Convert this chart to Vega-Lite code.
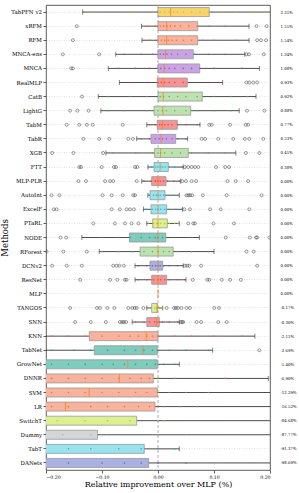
{
  "$schema": "https://vega.github.io/schema/vega-lite/v6.json",
  "width": 224,
  "height": 465,
  "autosize": {"type": "none"},
  "padding": {"left": 46, "top": 5, "right": 29, "bottom": 23},
  "background": "white",
  "config": {
    "font": "DejaVu Serif",
    "view": {"stroke": "#333333", "strokeWidth": 0.8},
    "axis": {"labelColor": "#000000", "titleColor": "#000000", "titleFontWeight": "normal", "tickColor": "#333333"}
  },
  "datasets": {
    "stats": [
      {"method": "TabPFN v2", "lo": -0.1345, "q1": 0.0, "med": 0.0225, "q3": 0.0916, "hi": 0.25},
      {"method": "xRFM", "lo": -0.0295, "q1": 0.0, "med": 0.0155, "q3": 0.0709, "hi": 0.1625},
      {"method": "RFM", "lo": -0.0286, "q1": 0.0, "med": 0.0154, "q3": 0.0709, "hi": 0.1625},
      {"method": "MNCA-ens", "lo": -0.0755, "q1": 0.0, "med": 0.0134, "q3": 0.063, "hi": 0.155},
      {"method": "MNCA", "lo": -0.0888, "q1": 0.0, "med": 0.0108, "q3": 0.0745, "hi": 0.181},
      {"method": "RealMLP", "lo": -0.069, "q1": -0.0013, "med": 0.0093, "q3": 0.0523, "hi": 0.1155},
      {"method": "CatB", "lo": -0.1066, "q1": 0.0, "med": 0.0092, "q3": 0.079, "hi": 0.175},
      {"method": "LightG", "lo": -0.102, "q1": -0.0071, "med": 0.0088, "q3": 0.0584, "hi": 0.145},
      {"method": "TabM", "lo": -0.02, "q1": -0.0013, "med": 0.0077, "q3": 0.0345, "hi": 0.075},
      {"method": "TabR", "lo": -0.038, "q1": -0.0125, "med": 0.0053, "q3": 0.0316, "hi": 0.053},
      {"method": "XGB", "lo": -0.093, "q1": -0.006, "med": 0.0045, "q3": 0.054, "hi": 0.139},
      {"method": "FTT", "lo": -0.018, "q1": -0.0071, "med": 0.0038, "q3": 0.0184, "hi": 0.045},
      {"method": "MLP-PLR", "lo": -0.029, "q1": -0.0113, "med": 0.0, "q3": 0.0143, "hi": 0.0405},
      {"method": "AutoInt", "lo": -0.018, "q1": -0.0143, "med": 0.0, "q3": 0.0125, "hi": 0.038},
      {"method": "ExcelF", "lo": -0.026, "q1": -0.0125, "med": 0.0, "q3": 0.0155, "hi": 0.044},
      {"method": "PTaRL", "lo": -0.02, "q1": -0.0095, "med": 0.0, "q3": 0.0166, "hi": 0.038},
      {"method": "NODE", "lo": -0.136, "q1": -0.051, "med": 0.0, "q3": 0.0138, "hi": 0.0738},
      {"method": "RForest", "lo": -0.105, "q1": -0.032, "med": 0.0, "q3": 0.027, "hi": 0.1},
      {"method": "DCNv2", "lo": -0.041, "q1": -0.0143, "med": 0.0, "q3": 0.0084, "hi": 0.045},
      {"method": "ResNet", "lo": -0.041, "q1": -0.0113, "med": 0.0, "q3": 0.0155, "hi": 0.05},
      {"method": "MLP", "lo": null, "q1": null, "med": 0.0, "q3": null, "hi": null},
      {"method": "TANGOS", "lo": -0.02, "q1": -0.0113, "med": -0.0017, "q3": -0.0013, "hi": 0.0084},
      {"method": "SNN", "lo": -0.046, "q1": -0.02, "med": -0.003, "q3": 0.0023, "hi": 0.038},
      {"method": "KNN", "lo": -0.5, "q1": -0.1227, "med": -0.0211, "q3": 0.0, "hi": 0.173},
      {"method": "TabNet", "lo": -0.5, "q1": -0.1138, "med": -0.0269, "q3": -0.0013, "hi": 0.0977},
      {"method": "GrowNet", "lo": -0.6, "q1": -0.25, "med": -0.054, "q3": -0.0013, "hi": 0.038},
      {"method": "DNNR", "lo": -0.8, "q1": -0.3, "med": -0.069, "q3": -0.0084, "hi": 0.197},
      {"method": "SVM", "lo": -0.9, "q1": -0.4, "med": -0.1229, "q3": -0.0013, "hi": 0.35},
      {"method": "LR", "lo": -0.95, "q1": -0.45, "med": -0.1652, "q3": -0.0054, "hi": 0.3},
      {"method": "SwitchT", "lo": -1.0, "q1": -0.95, "med": -0.8468, "q3": -0.038, "hi": 0.3},
      {"method": "Dummy", "lo": -1.0, "q1": -0.95, "med": -0.8777, "q3": -0.108, "hi": 0.3},
      {"method": "TabT", "lo": -1.0, "q1": -0.97, "med": -0.9137, "q3": -0.0245, "hi": 0.038},
      {"method": "DANets", "lo": -1.0, "q1": -0.99, "med": -0.9869, "q3": -0.0166, "hi": 0.3}
    ],
    "outliers": [
      {"method": "xRFM", "v": -0.145}, {"method": "xRFM", "v": 0.176}, {"method": "xRFM", "v": 0.194},
      {"method": "RFM", "v": -0.152}, {"method": "RFM", "v": 0.177}, {"method": "RFM", "v": 0.184}, {"method": "RFM", "v": 0.193},
      {"method": "MNCA-ens", "v": -0.17}, {"method": "MNCA-ens", "v": -0.105}, {"method": "MNCA-ens", "v": 0.158}, {"method": "MNCA-ens", "v": 0.1625}, {"method": "MNCA-ens", "v": 0.189},
      {"method": "MNCA", "v": -0.152}, {"method": "MNCA", "v": -0.155},
      {"method": "RealMLP", "v": 0.158}, {"method": "RealMLP", "v": 0.163}, {"method": "RealMLP", "v": 0.17}, {"method": "RealMLP", "v": 0.177},
      {"method": "CatB", "v": -0.1357},
      {"method": "LightG", "v": -0.157}, {"method": "LightG", "v": -0.144}, {"method": "LightG", "v": -0.124}, {"method": "LightG", "v": 0.159}, {"method": "LightG", "v": 0.19},
      {"method": "TabM", "v": -0.163}, {"method": "TabM", "v": -0.1405}, {"method": "TabM", "v": -0.127}, {"method": "TabM", "v": -0.1166}, {"method": "TabM", "v": -0.063}, {"method": "TabM", "v": 0.0916}, {"method": "TabM", "v": 0.096}, {"method": "TabM", "v": 0.1286}, {"method": "TabM", "v": 0.1566}, {"method": "TabM", "v": 0.161},
      {"method": "TabR", "v": -0.133}, {"method": "TabR", "v": -0.105}, {"method": "TabR", "v": -0.087}, {"method": "TabR", "v": -0.053}, {"method": "TabR", "v": -0.045}, {"method": "TabR", "v": 0.078}, {"method": "TabR", "v": 0.084}, {"method": "TabR", "v": 0.1077}, {"method": "TabR", "v": 0.1345}, {"method": "TabR", "v": 0.155}, {"method": "TabR", "v": 0.163}, {"method": "TabR", "v": 0.188},
      {"method": "XGB", "v": -0.189}, {"method": "XGB", "v": -0.151}, {"method": "XGB", "v": -0.098}, {"method": "XGB", "v": 0.157}, {"method": "XGB", "v": 0.181},
      {"method": "FTT", "v": -0.1405}, {"method": "FTT", "v": -0.1375}, {"method": "FTT", "v": -0.1005}, {"method": "FTT", "v": -0.0786}, {"method": "FTT", "v": -0.075}, {"method": "FTT", "v": -0.041}, {"method": "FTT", "v": -0.037}, {"method": "FTT", "v": 0.048}, {"method": "FTT", "v": 0.054}, {"method": "FTT", "v": 0.06}, {"method": "FTT", "v": 0.066}, {"method": "FTT", "v": 0.072}, {"method": "FTT", "v": 0.1036}, {"method": "FTT", "v": 0.12}, {"method": "FTT", "v": 0.127},
      {"method": "MLP-PLR", "v": -0.142}, {"method": "MLP-PLR", "v": -0.1286}, {"method": "MLP-PLR", "v": -0.0946}, {"method": "MLP-PLR", "v": -0.0857}, {"method": "MLP-PLR", "v": -0.0798}, {"method": "MLP-PLR", "v": -0.038}, {"method": "MLP-PLR", "v": 0.0434}, {"method": "MLP-PLR", "v": 0.05}, {"method": "MLP-PLR", "v": 0.06}, {"method": "MLP-PLR", "v": 0.068}, {"method": "MLP-PLR", "v": 0.124}, {"method": "MLP-PLR", "v": 0.139}, {"method": "MLP-PLR", "v": 0.161},
      {"method": "AutoInt", "v": -0.19}, {"method": "AutoInt", "v": -0.176}, {"method": "AutoInt", "v": -0.099}, {"method": "AutoInt", "v": -0.0827}, {"method": "AutoInt", "v": -0.063}, {"method": "AutoInt", "v": -0.044}, {"method": "AutoInt", "v": -0.041}, {"method": "AutoInt", "v": 0.051}, {"method": "AutoInt", "v": 0.054}, {"method": "AutoInt", "v": 0.057}, {"method": "AutoInt", "v": 0.061}, {"method": "AutoInt", "v": 0.08}, {"method": "AutoInt", "v": 0.1227}, {"method": "AutoInt", "v": 0.185},
      {"method": "ExcelF", "v": -0.186}, {"method": "ExcelF", "v": -0.181}, {"method": "ExcelF", "v": -0.0827}, {"method": "ExcelF", "v": -0.068}, {"method": "ExcelF", "v": -0.056}, {"method": "ExcelF", "v": -0.05}, {"method": "ExcelF", "v": -0.043}, {"method": "ExcelF", "v": 0.047}, {"method": "ExcelF", "v": 0.057}, {"method": "ExcelF", "v": 0.093}, {"method": "ExcelF", "v": 0.112}, {"method": "ExcelF", "v": 0.163},
      {"method": "PTaRL", "v": -0.1155}, {"method": "PTaRL", "v": -0.077}, {"method": "PTaRL", "v": -0.059}, {"method": "PTaRL", "v": -0.047}, {"method": "PTaRL", "v": -0.035}, {"method": "PTaRL", "v": 0.054}, {"method": "PTaRL", "v": 0.063}, {"method": "PTaRL", "v": 0.066}, {"method": "PTaRL", "v": 0.099}, {"method": "PTaRL", "v": 0.1357},
      {"method": "NODE", "v": -0.174}, {"method": "NODE", "v": -0.164}, {"method": "NODE", "v": 0.121}, {"method": "NODE", "v": 0.164}, {"method": "NODE", "v": 0.175}, {"method": "NODE", "v": 0.177}, {"method": "NODE", "v": 0.199},
      {"method": "RForest", "v": -0.199}, {"method": "RForest", "v": -0.169}, {"method": "RForest", "v": -0.127}, {"method": "RForest", "v": 0.158}, {"method": "RForest", "v": 0.171},
      {"method": "DCNv2", "v": -0.189}, {"method": "DCNv2", "v": -0.163}, {"method": "DCNv2", "v": -0.136}, {"method": "DCNv2", "v": -0.08}, {"method": "DCNv2", "v": -0.074}, {"method": "DCNv2", "v": -0.069}, {"method": "DCNv2", "v": -0.061}, {"method": "DCNv2", "v": 0.048}, {"method": "DCNv2", "v": 0.052}, {"method": "DCNv2", "v": 0.056}, {"method": "DCNv2", "v": 0.077}, {"method": "DCNv2", "v": 0.177},
      {"method": "ResNet", "v": -0.139}, {"method": "ResNet", "v": -0.0857}, {"method": "ResNet", "v": -0.0727}, {"method": "ResNet", "v": -0.059}, {"method": "ResNet", "v": -0.056}, {"method": "ResNet", "v": 0.062}, {"method": "ResNet", "v": 0.088}, {"method": "ResNet", "v": 0.0916}, {"method": "ResNet", "v": 0.114}, {"method": "ResNet", "v": 0.1286}, {"method": "ResNet", "v": 0.148},
      {"method": "TANGOS", "v": -0.157}, {"method": "TANGOS", "v": -0.109}, {"method": "TANGOS", "v": -0.1036}, {"method": "TANGOS", "v": -0.0905}, {"method": "TANGOS", "v": -0.078}, {"method": "TANGOS", "v": -0.053}, {"method": "TANGOS", "v": -0.046}, {"method": "TANGOS", "v": -0.0416}, {"method": "TANGOS", "v": -0.038}, {"method": "TANGOS", "v": -0.026}, {"method": "TANGOS", "v": 0.0155}, {"method": "TANGOS", "v": 0.0286}, {"method": "TANGOS", "v": 0.032}, {"method": "TANGOS", "v": 0.0357}, {"method": "TANGOS", "v": 0.042}, {"method": "TANGOS", "v": 0.051}, {"method": "TANGOS", "v": 0.057}, {"method": "TANGOS", "v": 0.1005}, {"method": "TANGOS", "v": 0.109},
      {"method": "SNN", "v": -0.148}, {"method": "SNN", "v": -0.12}, {"method": "SNN", "v": -0.093}, {"method": "SNN", "v": -0.068}, {"method": "SNN", "v": -0.064}, {"method": "SNN", "v": -0.061}, {"method": "SNN", "v": -0.057}, {"method": "SNN", "v": 0.0405}, {"method": "SNN", "v": 0.043}, {"method": "SNN", "v": 0.045}, {"method": "SNN", "v": 0.069}, {"method": "SNN", "v": 0.077}, {"method": "SNN", "v": 0.1077}, {"method": "SNN", "v": 0.1227},
      {"method": "TabNet", "v": 0.181}
    ],
    "points": [
      {"method": "TabPFN v2", "v": -0.12}, {"method": "TabPFN v2", "v": -0.05}, {"method": "TabPFN v2", "v": -0.01}, {"method": "TabPFN v2", "v": 0.004}, {"method": "TabPFN v2", "v": 0.012}, {"method": "TabPFN v2", "v": 0.02}, {"method": "TabPFN v2", "v": 0.028}, {"method": "TabPFN v2", "v": 0.035}, {"method": "TabPFN v2", "v": 0.045}, {"method": "TabPFN v2", "v": 0.06}, {"method": "TabPFN v2", "v": 0.075}, {"method": "TabPFN v2", "v": 0.09}, {"method": "TabPFN v2", "v": 0.11}, {"method": "TabPFN v2", "v": 0.14}, {"method": "TabPFN v2", "v": 0.17}, {"method": "TabPFN v2", "v": 0.19},
      {"method": "xRFM", "v": -0.02}, {"method": "xRFM", "v": -0.005}, {"method": "xRFM", "v": 0.004}, {"method": "xRFM", "v": 0.01}, {"method": "xRFM", "v": 0.016}, {"method": "xRFM", "v": 0.022}, {"method": "xRFM", "v": 0.03}, {"method": "xRFM", "v": 0.04}, {"method": "xRFM", "v": 0.055}, {"method": "xRFM", "v": 0.07}, {"method": "xRFM", "v": 0.09}, {"method": "xRFM", "v": 0.12},
      {"method": "RFM", "v": -0.015}, {"method": "RFM", "v": 0.0}, {"method": "RFM", "v": 0.006}, {"method": "RFM", "v": 0.012}, {"method": "RFM", "v": 0.018}, {"method": "RFM", "v": 0.025}, {"method": "RFM", "v": 0.033}, {"method": "RFM", "v": 0.045}, {"method": "RFM", "v": 0.06}, {"method": "RFM", "v": 0.08}, {"method": "RFM", "v": 0.1}, {"method": "RFM", "v": 0.14},
      {"method": "MNCA-ens", "v": -0.06}, {"method": "MNCA-ens", "v": -0.03}, {"method": "MNCA-ens", "v": -0.01}, {"method": "MNCA-ens", "v": 0.004}, {"method": "MNCA-ens", "v": 0.01}, {"method": "MNCA-ens", "v": 0.016}, {"method": "MNCA-ens", "v": 0.024}, {"method": "MNCA-ens", "v": 0.035}, {"method": "MNCA-ens", "v": 0.05}, {"method": "MNCA-ens", "v": 0.065}, {"method": "MNCA-ens", "v": 0.09}, {"method": "MNCA-ens", "v": 0.12},
      {"method": "MNCA", "v": -0.07}, {"method": "MNCA", "v": -0.04}, {"method": "MNCA", "v": -0.015}, {"method": "MNCA", "v": 0.005}, {"method": "MNCA", "v": 0.012}, {"method": "MNCA", "v": 0.02}, {"method": "MNCA", "v": 0.03}, {"method": "MNCA", "v": 0.045}, {"method": "MNCA", "v": 0.06}, {"method": "MNCA", "v": 0.075}, {"method": "MNCA", "v": 0.1}, {"method": "MNCA", "v": 0.15},
      {"method": "RealMLP", "v": -0.05}, {"method": "RealMLP", "v": -0.02}, {"method": "RealMLP", "v": 0.0}, {"method": "RealMLP", "v": 0.006}, {"method": "RealMLP", "v": 0.012}, {"method": "RealMLP", "v": 0.02}, {"method": "RealMLP", "v": 0.03}, {"method": "RealMLP", "v": 0.045}, {"method": "RealMLP", "v": 0.07}, {"method": "RealMLP", "v": 0.09}, {"method": "RealMLP", "v": 0.11},
      {"method": "CatB", "v": -0.09}, {"method": "CatB", "v": -0.05}, {"method": "CatB", "v": -0.02}, {"method": "CatB", "v": 0.004}, {"method": "CatB", "v": 0.01}, {"method": "CatB", "v": 0.02}, {"method": "CatB", "v": 0.035}, {"method": "CatB", "v": 0.05}, {"method": "CatB", "v": 0.07}, {"method": "CatB", "v": 0.1}, {"method": "CatB", "v": 0.13}, {"method": "CatB", "v": 0.16},
      {"method": "LightG", "v": -0.09}, {"method": "LightG", "v": -0.06}, {"method": "LightG", "v": -0.02}, {"method": "LightG", "v": 0.0}, {"method": "LightG", "v": 0.008}, {"method": "LightG", "v": 0.015}, {"method": "LightG", "v": 0.03}, {"method": "LightG", "v": 0.05}, {"method": "LightG", "v": 0.07}, {"method": "LightG", "v": 0.1}, {"method": "LightG", "v": 0.13},
      {"method": "TabM", "v": -0.015}, {"method": "TabM", "v": -0.005}, {"method": "TabM", "v": 0.003}, {"method": "TabM", "v": 0.007}, {"method": "TabM", "v": 0.012}, {"method": "TabM", "v": 0.018}, {"method": "TabM", "v": 0.025}, {"method": "TabM", "v": 0.035}, {"method": "TabM", "v": 0.05}, {"method": "TabM", "v": 0.07},
      {"method": "TabR", "v": -0.03}, {"method": "TabR", "v": -0.015}, {"method": "TabR", "v": -0.005}, {"method": "TabR", "v": 0.002}, {"method": "TabR", "v": 0.008}, {"method": "TabR", "v": 0.015}, {"method": "TabR", "v": 0.025}, {"method": "TabR", "v": 0.035}, {"method": "TabR", "v": 0.05},
      {"method": "XGB", "v": -0.08}, {"method": "XGB", "v": -0.04}, {"method": "XGB", "v": -0.01}, {"method": "XGB", "v": 0.0}, {"method": "XGB", "v": 0.005}, {"method": "XGB", "v": 0.012}, {"method": "XGB", "v": 0.025}, {"method": "XGB", "v": 0.04}, {"method": "XGB", "v": 0.06}, {"method": "XGB", "v": 0.09}, {"method": "XGB", "v": 0.12},
      {"method": "FTT", "v": -0.012}, {"method": "FTT", "v": -0.004}, {"method": "FTT", "v": 0.0}, {"method": "FTT", "v": 0.004}, {"method": "FTT", "v": 0.008}, {"method": "FTT", "v": 0.013}, {"method": "FTT", "v": 0.02}, {"method": "FTT", "v": 0.03}, {"method": "FTT", "v": 0.042},
      {"method": "MLP-PLR", "v": -0.025}, {"method": "MLP-PLR", "v": -0.012}, {"method": "MLP-PLR", "v": -0.005}, {"method": "MLP-PLR", "v": 0.0}, {"method": "MLP-PLR", "v": 0.004}, {"method": "MLP-PLR", "v": 0.01}, {"method": "MLP-PLR", "v": 0.017}, {"method": "MLP-PLR", "v": 0.028}, {"method": "MLP-PLR", "v": 0.038},
      {"method": "AutoInt", "v": -0.016}, {"method": "AutoInt", "v": -0.008}, {"method": "AutoInt", "v": -0.003}, {"method": "AutoInt", "v": 0.0}, {"method": "AutoInt", "v": 0.004}, {"method": "AutoInt", "v": 0.01}, {"method": "AutoInt", "v": 0.018}, {"method": "AutoInt", "v": 0.028}, {"method": "AutoInt", "v": 0.036},
      {"method": "ExcelF", "v": -0.022}, {"method": "ExcelF", "v": -0.01}, {"method": "ExcelF", "v": -0.004}, {"method": "ExcelF", "v": 0.0}, {"method": "ExcelF", "v": 0.005}, {"method": "ExcelF", "v": 0.012}, {"method": "ExcelF", "v": 0.02}, {"method": "ExcelF", "v": 0.032}, {"method": "ExcelF", "v": 0.042},
      {"method": "PTaRL", "v": -0.017}, {"method": "PTaRL", "v": -0.008}, {"method": "PTaRL", "v": -0.002}, {"method": "PTaRL", "v": 0.0}, {"method": "PTaRL", "v": 0.005}, {"method": "PTaRL", "v": 0.012}, {"method": "PTaRL", "v": 0.02}, {"method": "PTaRL", "v": 0.03}, {"method": "PTaRL", "v": 0.036},
      {"method": "NODE", "v": -0.13}, {"method": "NODE", "v": -0.1}, {"method": "NODE", "v": -0.07}, {"method": "NODE", "v": -0.05}, {"method": "NODE", "v": -0.03}, {"method": "NODE", "v": -0.015}, {"method": "NODE", "v": -0.005}, {"method": "NODE", "v": 0.0}, {"method": "NODE", "v": 0.008}, {"method": "NODE", "v": 0.015}, {"method": "NODE", "v": 0.03}, {"method": "NODE", "v": 0.06},
      {"method": "RForest", "v": -0.1}, {"method": "RForest", "v": -0.07}, {"method": "RForest", "v": -0.045}, {"method": "RForest", "v": -0.025}, {"method": "RForest", "v": -0.01}, {"method": "RForest", "v": 0.0}, {"method": "RForest", "v": 0.01}, {"method": "RForest", "v": 0.02}, {"method": "RForest", "v": 0.035}, {"method": "RForest", "v": 0.06}, {"method": "RForest", "v": 0.09},
      {"method": "DCNv2", "v": -0.035}, {"method": "DCNv2", "v": -0.02}, {"method": "DCNv2", "v": -0.01}, {"method": "DCNv2", "v": -0.004}, {"method": "DCNv2", "v": 0.0}, {"method": "DCNv2", "v": 0.004}, {"method": "DCNv2", "v": 0.01}, {"method": "DCNv2", "v": 0.02}, {"method": "DCNv2", "v": 0.035},
      {"method": "ResNet", "v": -0.035}, {"method": "ResNet", "v": -0.02}, {"method": "ResNet", "v": -0.008}, {"method": "ResNet", "v": 0.0}, {"method": "ResNet", "v": 0.005}, {"method": "ResNet", "v": 0.012}, {"method": "ResNet", "v": 0.02}, {"method": "ResNet", "v": 0.035}, {"method": "ResNet", "v": 0.048},
      {"method": "TANGOS", "v": -0.015}, {"method": "TANGOS", "v": -0.006}, {"method": "TANGOS", "v": -0.003}, {"method": "TANGOS", "v": -0.001}, {"method": "TANGOS", "v": 0.0}, {"method": "TANGOS", "v": 0.004}, {"method": "TANGOS", "v": 0.008},
      {"method": "SNN", "v": -0.04}, {"method": "SNN", "v": -0.025}, {"method": "SNN", "v": -0.015}, {"method": "SNN", "v": -0.006}, {"method": "SNN", "v": -0.002}, {"method": "SNN", "v": 0.002}, {"method": "SNN", "v": 0.008}, {"method": "SNN", "v": 0.02}, {"method": "SNN", "v": 0.035},
      {"method": "KNN", "v": -0.19}, {"method": "KNN", "v": -0.16}, {"method": "KNN", "v": -0.13}, {"method": "KNN", "v": -0.1}, {"method": "KNN", "v": -0.07}, {"method": "KNN", "v": -0.05}, {"method": "KNN", "v": -0.035}, {"method": "KNN", "v": -0.02}, {"method": "KNN", "v": -0.01}, {"method": "KNN", "v": 0.0}, {"method": "KNN", "v": 0.03}, {"method": "KNN", "v": 0.06}, {"method": "KNN", "v": 0.1}, {"method": "KNN", "v": 0.15},
      {"method": "TabNet", "v": -0.19}, {"method": "TabNet", "v": -0.15}, {"method": "TabNet", "v": -0.12}, {"method": "TabNet", "v": -0.09}, {"method": "TabNet", "v": -0.06}, {"method": "TabNet", "v": -0.04}, {"method": "TabNet", "v": -0.025}, {"method": "TabNet", "v": -0.01}, {"method": "TabNet", "v": 0.0}, {"method": "TabNet", "v": 0.02}, {"method": "TabNet", "v": 0.05}, {"method": "TabNet", "v": 0.09},
      {"method": "GrowNet", "v": -0.19}, {"method": "GrowNet", "v": -0.16}, {"method": "GrowNet", "v": -0.13}, {"method": "GrowNet", "v": -0.1}, {"method": "GrowNet", "v": -0.08}, {"method": "GrowNet", "v": -0.06}, {"method": "GrowNet", "v": -0.04}, {"method": "GrowNet", "v": -0.02}, {"method": "GrowNet", "v": -0.005}, {"method": "GrowNet", "v": 0.01}, {"method": "GrowNet", "v": 0.03},
      {"method": "DNNR", "v": -0.19}, {"method": "DNNR", "v": -0.16}, {"method": "DNNR", "v": -0.13}, {"method": "DNNR", "v": -0.1}, {"method": "DNNR", "v": -0.07}, {"method": "DNNR", "v": -0.05}, {"method": "DNNR", "v": -0.03}, {"method": "DNNR", "v": -0.015}, {"method": "DNNR", "v": 0.0}, {"method": "DNNR", "v": 0.03}, {"method": "DNNR", "v": 0.12},
      {"method": "SVM", "v": -0.19}, {"method": "SVM", "v": -0.16}, {"method": "SVM", "v": -0.13}, {"method": "SVM", "v": -0.1}, {"method": "SVM", "v": -0.07}, {"method": "SVM", "v": -0.04}, {"method": "SVM", "v": -0.02}, {"method": "SVM", "v": 0.0}, {"method": "SVM", "v": 0.02}, {"method": "SVM", "v": 0.05}, {"method": "SVM", "v": 0.09},
      {"method": "LR", "v": -0.19}, {"method": "LR", "v": -0.16}, {"method": "LR", "v": -0.12}, {"method": "LR", "v": -0.09}, {"method": "LR", "v": -0.06}, {"method": "LR", "v": -0.035}, {"method": "LR", "v": -0.015}, {"method": "LR", "v": 0.0}, {"method": "LR", "v": 0.01}, {"method": "LR", "v": 0.04}, {"method": "LR", "v": 0.07},
      {"method": "SwitchT", "v": -0.18}, {"method": "SwitchT", "v": -0.13}, {"method": "SwitchT", "v": -0.09}, {"method": "SwitchT", "v": -0.05}, {"method": "SwitchT", "v": 0.0}, {"method": "SwitchT", "v": 0.01},
      {"method": "Dummy", "v": -0.17}, {"method": "Dummy", "v": -0.12}, {"method": "Dummy", "v": -0.09}, {"method": "Dummy", "v": 0.0}, {"method": "Dummy", "v": 0.05},
      {"method": "TabT", "v": -0.16}, {"method": "TabT", "v": -0.12}, {"method": "TabT", "v": -0.07}, {"method": "TabT", "v": -0.03}, {"method": "TabT", "v": 0.0}, {"method": "TabT", "v": 0.03},
      {"method": "DANets", "v": -0.16}, {"method": "DANets", "v": -0.1}, {"method": "DANets", "v": -0.06}, {"method": "DANets", "v": -0.03}, {"method": "DANets", "v": 0.0}, {"method": "DANets", "v": 0.05}
    ]
  },
  "layer": [
    {
      "encoding": {
        "y": {
          "field": "method", "type": "nominal",
          "scale": {"domain": ["TabPFN v2","xRFM","RFM","MNCA-ens","MNCA","RealMLP","CatB","LightG","TabM","TabR","XGB","FTT","MLP-PLR","AutoInt","ExcelF","PTaRL","NODE","RForest","DCNv2","ResNet","MLP","TANGOS","SNN","KNN","TabNet","GrowNet","DNNR","SVM","LR","SwitchT","Dummy","TabT","DANets"], "paddingInner": 0, "paddingOuter": 0},
          "axis": {"title": "Methods", "titleFontSize": 8.5, "titlePadding": 1, "labelFontSize": 5.5, "labelPadding": 1.5, "tickSize": 3, "tickWidth": 0.8, "bandPosition": 0.5, "grid": true, "gridDash": [1, 1.5], "gridColor": "#c4c4c4", "gridWidth": 0.5, "domain": false}
        }
      },
      "layer": [
        {
          "data": {"values": [{}]},
          "mark": {"type": "rule", "strokeDash": [3, 2], "color": "#9a9a9a", "strokeWidth": 0.8},
          "encoding": {
            "x": {"datum": 0, "type": "quantitative", "scale": {"domain": [-0.2, 0.2], "nice": false, "zero": false},
              "axis": {"values": [-0.2, -0.15, -0.1, -0.05, 0, 0.05, 0.1, 0.15, 0.2], "format": ".2f", "title": "Relative improvement over MLP (%)", "titleFontSize": 8, "titlePadding": 1.5, "labelFontSize": 4.6, "labelPadding": 1.5, "tickSize": 3, "tickWidth": 0.8, "grid": false, "domain": false}},
            "y": null
          }
        },
        {
          "data": {"name": "stats"},
          "mark": {"type": "rule", "color": "#3a3a3a", "strokeWidth": 0.9, "clip": true},
          "encoding": {"x": {"field": "lo", "type": "quantitative"}, "x2": {"field": "hi"}}
        },
        {
          "data": {"name": "stats"},
          "mark": {"type": "tick", "color": "#3a3a3a", "size": 5, "thickness": 0.9, "clip": true},
          "encoding": {"x": {"field": "lo", "type": "quantitative"}}
        },
        {
          "data": {"name": "stats"},
          "mark": {"type": "tick", "color": "#3a3a3a", "size": 5, "thickness": 0.9, "clip": true},
          "encoding": {"x": {"field": "hi", "type": "quantitative"}}
        },
        {
          "data": {"name": "stats"},
          "mark": {"type": "bar", "size": 9, "stroke": "#999999", "strokeWidth": 0.8, "clip": true},
          "encoding": {
            "x": {"field": "q1", "type": "quantitative"},
            "x2": {"field": "q3"},
            "fill": {"field": "method", "type": "nominal", "legend": null,
              "scale": {"domain": ["TabPFN v2","xRFM","RFM","MNCA-ens","MNCA","RealMLP","CatB","LightG","TabM","TabR","XGB","FTT","MLP-PLR","AutoInt","ExcelF","PTaRL","NODE","RForest","DCNv2","ResNet","MLP","TANGOS","SNN","KNN","TabNet","GrowNet","DNNR","SVM","LR","SwitchT","Dummy","TabT","DANets"],
                "range": ["#f8d46c","#f9b29c","#f9b29c","#c9a3e3","#c9a3e3","#f49494","#bde2b0","#bde2b0","#f49494","#c9a3e3","#bde2b0","#97e4ef","#f49494","#97e4ef","#97e4ef","#dbf191","#7fcbbd","#bde2b0","#a9b0e3","#f49494","#ffb37a","#dbf191","#f49494","#f9b29c","#7fcbbd","#7fcbbd","#f9b29c","#f9b29c","#f9b29c","#dbf191","#d5d5d5","#97e4ef","#a9b0e3"]}}
          }
        },
        {
          "data": {"name": "points"},
          "mark": {"type": "circle", "size": 2.5, "opacity": 0.85, "clip": true},
          "encoding": {
            "x": {"field": "v", "type": "quantitative"},
            "color": {"field": "method", "type": "nominal", "legend": null,
              "scale": {"domain": ["TabPFN v2","xRFM","RFM","MNCA-ens","MNCA","RealMLP","CatB","LightG","TabM","TabR","XGB","FTT","MLP-PLR","AutoInt","ExcelF","PTaRL","NODE","RForest","DCNv2","ResNet","MLP","TANGOS","SNN","KNN","TabNet","GrowNet","DNNR","SVM","LR","SwitchT","Dummy","TabT","DANets"],
                "range": ["#e3ac10","#e8653e","#e8653e","#9046c8","#9046c8","#d63a3a","#4cae4c","#4cae4c","#d63a3a","#9046c8","#4cae4c","#1aabc6","#d63a3a","#1aabc6","#1aabc6","#a2c820","#1f9080","#4cae4c","#4454c4","#d63a3a","#ff7f0e","#a2c820","#d63a3a","#e8653e","#1f9080","#1f9080","#e8653e","#e8653e","#e8653e","#a2c820","#a0a0a0","#1aabc6","#4454c4"]}}
          }
        },
        {
          "data": {"name": "stats"},
          "mark": {"type": "tick", "color": "#ff7f0e", "size": 9, "thickness": 1, "clip": true},
          "encoding": {"x": {"field": "med", "type": "quantitative"}}
        },
        {
          "data": {"name": "outliers"},
          "mark": {"type": "point", "shape": "circle", "filled": false, "size": 9, "stroke": "#333333", "strokeWidth": 0.7, "clip": true},
          "encoding": {"x": {"field": "v", "type": "quantitative"}}
        }
      ]
    },
    {
      "data": {"name": "stats"},
      "mark": {"type": "point", "opacity": 0},
      "encoding": {
        "y": {
          "field": "method", "type": "nominal",
          "scale": {"domain": ["TabPFN v2","xRFM","RFM","MNCA-ens","MNCA","RealMLP","CatB","LightG","TabM","TabR","XGB","FTT","MLP-PLR","AutoInt","ExcelF","PTaRL","NODE","RForest","DCNv2","ResNet","MLP","TANGOS","SNN","KNN","TabNet","GrowNet","DNNR","SVM","LR","SwitchT","Dummy","TabT","DANets"], "paddingInner": 0, "paddingOuter": 0},
          "axis": {"orient": "right", "title": null, "ticks": false, "domain": false, "grid": false, "labelFontSize": 3.9, "labelPadding": 10,
            "labelExpr": "['2.25%','1.55%','1.54%','1.34%','1.08%','0.93%','0.92%','0.88%','0.77%','0.53%','0.45%','0.38%','0.00%','0.00%','0.00%','0.00%','0.00%','0.00%','0.00%','0.00%','0.00%','-0.17%','-0.30%','-2.11%','-2.69%','-5.40%','-6.90%','-12.29%','-16.52%','-84.68%','-87.77%','-91.37%','-98.69%'][indexof(['TabPFN v2','xRFM','RFM','MNCA-ens','MNCA','RealMLP','CatB','LightG','TabM','TabR','XGB','FTT','MLP-PLR','AutoInt','ExcelF','PTaRL','NODE','RForest','DCNv2','ResNet','MLP','TANGOS','SNN','KNN','TabNet','GrowNet','DNNR','SVM','LR','SwitchT','Dummy','TabT','DANets'], datum.value)]"}
        }
      }
    }
  ],
  "resolve": {"scale": {"y": "independent"}}
}
